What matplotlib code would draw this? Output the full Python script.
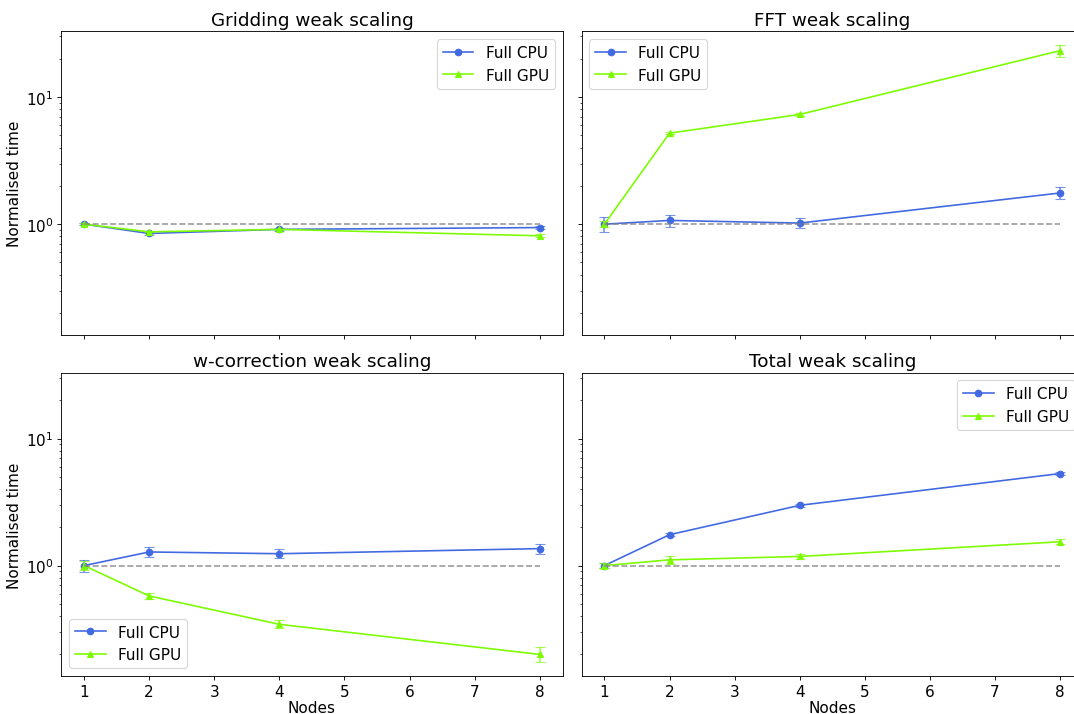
import matplotlib
matplotlib.use("Agg")
import matplotlib.pyplot as plt

plt.rcParams["font.size"] = 14

nodes = [1, 2, 4, 8]

# normalised times and errors
grid_cpu = [1.0, 0.845, 0.91, 0.94]
grid_cpu_err = [0.02, 0.02, 0.02, 0.02]
grid_gpu = [1.0, 0.87, 0.91, 0.81]
grid_gpu_err = [0.02, 0.01, 0.01, 0.02]

fft_cpu = [1.0, 1.07, 1.02, 1.76]
fft_cpu_err = [0.13, 0.12, 0.09, 0.19]
fft_gpu = [1.0, 5.2, 7.3, 23.2]
fft_gpu_err = [0.05, 0.1, 0.15, 2.5]

wc_cpu = [1.0, 1.28, 1.24, 1.36]
wc_cpu_err = [0.11, 0.11, 0.1, 0.13]
wc_gpu = [1.0, 0.577, 0.345, 0.20]
wc_gpu_err = [0.08, 0.03, 0.025, 0.027]

tot_cpu = [1.0, 1.75, 2.98, 5.3]
tot_cpu_err = [0.04, 0.05, 0.08, 0.15]
tot_gpu = [1.0, 1.11, 1.18, 1.54]
tot_gpu_err = [0.04, 0.08, 0.06, 0.07]

panels = [
    ("Gridding weak scaling", grid_cpu, grid_cpu_err, grid_gpu, grid_gpu_err, "upper right"),
    ("FFT weak scaling", fft_cpu, fft_cpu_err, fft_gpu, fft_gpu_err, "upper left"),
    ("w-correction weak scaling", wc_cpu, wc_cpu_err, wc_gpu, wc_gpu_err, "lower left"),
    ("Total weak scaling", tot_cpu, tot_cpu_err, tot_gpu, tot_gpu_err, "upper right"),
]

# big figure at low dpi -> same 1075x715 pixels, everything scaled down together
fig, axes = plt.subplots(2, 2, figsize=(13.694, 9.108), dpi=78.5, sharex=True, sharey=True)

for ax, (title, cpu, cpu_err, gpu, gpu_err, loc) in zip(axes.flat, panels):
    ax.plot(nodes, cpu, color="royalblue", marker="o", markersize=6, label="Full CPU")
    ax.errorbar(nodes, cpu, yerr=cpu_err, fmt="none", ecolor="royalblue", capsize=5, alpha=0.7)
    ax.plot(nodes, gpu, color="lawngreen", marker="^", markersize=6, label="Full GPU")
    ax.errorbar(nodes, gpu, yerr=gpu_err, fmt="none", ecolor="lawngreen", capsize=5, alpha=0.7)
    ax.hlines(1, nodes[0], nodes[-1], colors="grey", linestyles="--", alpha=0.8)
    ax.set_yscale("log")
    ax.set_title(title)
    ax.legend(loc=loc)

axes[0, 0].set_ylim(0.135, 33)
for ax in axes[:, 0]:
    ax.set_ylabel("Normalised time")
for ax in axes[1, :]:
    ax.set_xlabel("Nodes", labelpad=1.5)

# the original is cropped on the right, so the right panel runs past the edge
plt.subplots_adjust(left=0.057, right=1.0074, top=0.955, bottom=0.053, wspace=0.038, hspace=0.125)
plt.savefig("out.png", dpi=78.5)
